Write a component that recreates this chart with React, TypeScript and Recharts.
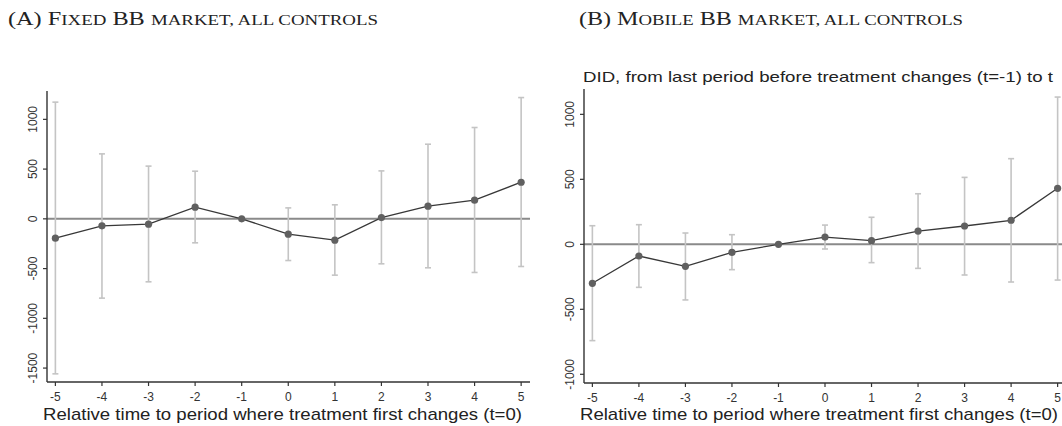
import React from 'react';
import { ErrorBar, Line, LineChart, ReferenceLine, XAxis, YAxis } from 'recharts';

// relative period (t=-1 is the omitted reference period)
const periods = [-5, -4, -3, -2, -1, 0, 1, 2, 3, 4, 5];

// (A) fixed BB market
const fixedCoef = [-194, -70, -54, 117, 0, -154, -214, 13, 127, 188, 368];
const fixedLow = [-1558, -797, -633, -241, 0, -419, -566, -452, -492, -539, -479];
const fixedHigh = [1173, 653, 530, 479, 0, 110, 141, 482, 750, 918, 1219];

// (B) mobile BB market
const mobileCoef = [-300, -90, -169, -62, 0, 56, 28, 102, 141, 185, 431];
const mobileLow = [-741, -331, -428, -195, 0, -36, -141, -185, -236, -290, -275];
const mobileHigh = [143, 151, 87, 74, 0, 148, 208, 389, 515, 659, 1133];

const xTicks = [-5, -4, -3, -2, -1, 0, 1, 2, 3, 4, 5];
const fixedYTicks = [-1500, -1000, -500, 0, 500, 1000];
const mobileYTicks = [-1000, -500, 0, 500, 1000];

const buildRows = (coef: number[], low: number[], high: number[]) =>
  periods.map((t, i) => ({
    t,
    coef: coef[i],
    err: [coef[i] - low[i], high[i] - coef[i]],
  }));

const fixedRows = buildRows(fixedCoef, fixedLow, fixedHigh);
const mobileRows = buildRows(mobileCoef, mobileLow, mobileHigh);

const sans = "Arial, 'Liberation Sans', sans-serif";
const serif = "'Palatino Linotype', 'Liberation Serif', 'DejaVu Serif', serif";

const XTick = (props: any) => {
  const { x, y, payload } = props;
  return (
    <text x={x} y={y + 15} textAnchor='middle' fontSize={12} fill='#333' fontFamily={sans}>
      {payload.value}
    </text>
  );
};

const YTick = (props: any) => {
  const { x, y, payload } = props;
  const bx = x - 4;
  return (
    <text
      x={bx}
      y={y}
      transform={`rotate(-90 ${bx} ${y})`}
      textAnchor='middle'
      fontSize={12}
      fill='#333'
      fontFamily={sans}
    >
      {payload.value}
    </text>
  );
};

// small caps by hand: big initial capitals, smaller capitals for the rest
const SmallCaps = ({ x, y, width, parts }: { x: number; y: number; width: number; parts: [string, boolean][] }) => (
  <text x={x} y={y} fontFamily={serif} fill='#222' textLength={width} lengthAdjust='spacingAndGlyphs'>
    {parts.map(([s, big], i) => (
      <tspan key={i} fontSize={big ? 18 : 14}>
        {s}
      </tspan>
    ))}
  </text>
);

interface PanelProps {
  rows: { t: number; coef: number; err: number[] }[];
  yDomain: [number, number];
  yTicks: number[];
  xDomain: [number, number];
  width: number;
  top: number;
  right: number;
  xHeight: number;
}

function Panel({ rows, yDomain, yTicks, xDomain, width, top, right, xHeight }: PanelProps) {
  return (
    <LineChart
      width={width}
      height={426}
      data={rows}
      margin={{ top, right, bottom: 0, left: 0 }}
    >
      <XAxis
        dataKey='t'
        type='number'
        domain={xDomain}
        ticks={xTicks}
        interval={0}
        allowDataOverflow
        height={xHeight}
        tickSize={4}
        tickMargin={0}
        tick={<XTick />}
        axisLine={{ stroke: '#333', strokeWidth: 1.4 }}
        tickLine={{ stroke: '#333', strokeWidth: 1.2 }}
      />
      <YAxis
        type='number'
        domain={yDomain}
        ticks={yTicks}
        interval={0}
        allowDataOverflow
        width={47}
        tickSize={4}
        tickMargin={2}
        tick={<YTick />}
        axisLine={{ stroke: '#333', strokeWidth: 1.4 }}
        tickLine={{ stroke: '#333', strokeWidth: 1.2 }}
      />
      <ReferenceLine y={0} stroke='#8a8a8a' strokeWidth={2} />
      <Line
        dataKey='coef'
        stroke='#383838'
        strokeWidth={1.3}
        dot={{ r: 3.6, fill: '#606060', stroke: '#606060', strokeWidth: 0 }}
        activeDot={false}
        isAnimationActive={false}
      >
        <ErrorBar dataKey='err' width={3} stroke='#c4c4c4' strokeWidth={1.6} direction='y' />
      </Line>
    </LineChart>
  );
}

export default function App() {
  return (
    <div
      style={{
        position: 'absolute',
        left: 0,
        top: 0,
        width: 1062,
        height: 426,
        overflow: 'hidden',
        background: '#fff',
      }}
    >
      <div style={{ position: 'absolute', left: 0, top: 0 }}>
        <Panel
          rows={fixedRows}
          yDomain={[-1640, 1285]}
          yTicks={fixedYTicks}
          xDomain={[-5.18, 5.19]}
          width={540}
          top={91}
          right={10}
          xHeight={44}
        />
      </div>
      <div style={{ position: 'absolute', left: 537, top: 0 }}>
        <Panel
          rows={mobileRows}
          yDomain={[-1067, 1195]}
          yTicks={mobileYTicks}
          xDomain={[-5.18, 5.18]}
          width={529}
          top={89}
          right={0}
          xHeight={43}
        />
      </div>
      <svg
        width={1062}
        height={426}
        style={{ position: 'absolute', left: 0, top: 0, pointerEvents: 'none' }}
      >
        <SmallCaps
          x={8}
          y={25}
          width={370}
          parts={[
            ['(A) F', true],
            ['IXED', false],
            [' BB ', true],
            ['MARKET, ALL CONTROLS', false],
          ]}
        />
        <SmallCaps
          x={579}
          y={25}
          width={384}
          parts={[
            ['(B) M', true],
            ['OBILE', false],
            [' BB ', true],
            ['MARKET, ALL CONTROLS', false],
          ]}
        />
        <text
          x={583}
          y={82}
          fontSize={15}
          fontFamily={sans}
          fill='#222'
          textLength={470}
          lengthAdjust='spacingAndGlyphs'
        >
          DID, from last period before treatment changes (t=-1) to t
        </text>
        <text
          x={43}
          y={420}
          fontSize={17}
          fontFamily={sans}
          fill='#222'
          textLength={479}
          lengthAdjust='spacingAndGlyphs'
        >
          Relative time to period where treatment first changes (t=0)
        </text>
        <text
          x={580}
          y={420}
          fontSize={17}
          fontFamily={sans}
          fill='#222'
          textLength={478}
          lengthAdjust='spacingAndGlyphs'
        >
          Relative time to period where treatment first changes (t=0)
        </text>
      </svg>
    </div>
  );
}
